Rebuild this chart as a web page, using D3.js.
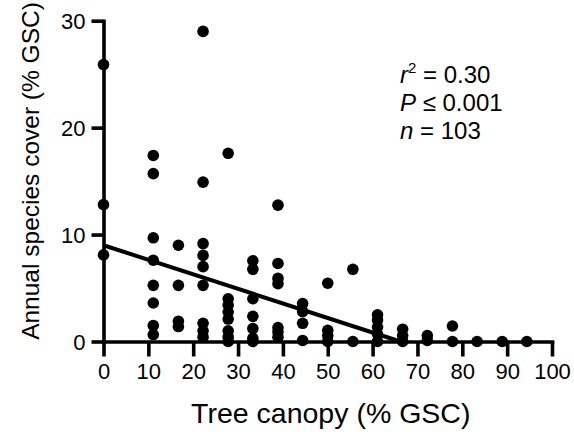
<!DOCTYPE html>
<html>
<head>
<meta charset="utf-8">
<script src="https://cdn.jsdelivr.net/npm/d3@7"></script>
<style>
  html, body { margin: 0; padding: 0; background: #fff; }
  svg { display: block; font-family: "Liberation Sans", Arial, Helvetica, sans-serif; }
</style>
</head>
<body>
<svg id="chart" width="574" height="438"></svg>
<script>
// Tree canopy classes (% ground surface cover) and annual species cover per sampled plot
const canopy = [
  0, 0, 0,
  11.1, 11.1, 11.1, 11.1, 11.1, 11.1, 11.1, 11.1,
  16.7, 16.7, 16.7, 16.7,
  22.2, 22.2, 22.2, 22.2, 22.2, 22.2, 22.2, 22.2, 22.2,
  27.8, 27.8, 27.8, 27.8, 27.8, 27.8, 27.8, 27.8,
  33.3, 33.3, 33.3, 33.3, 33.3, 33.3, 33.3,
  38.9, 38.9, 38.9, 38.9, 38.9, 38.9, 38.9,
  44.4, 44.4, 44.4, 44.4,
  50, 50, 50, 50,
  55.6, 55.6,
  61.1, 61.1, 61.1, 61.1, 61.1,
  66.7, 66.7, 66.7,
  72.2, 72.2,
  77.8, 77.8,
  83.3, 88.9, 94.4
];
const annualCover = [
  25.9, 12.8, 8.1,
  17.4, 15.7, 9.7, 7.6, 5.25, 3.6, 1.5, 0.65,
  9.0, 5.25, 1.9, 1.4,
  29.0, 14.9, 9.15, 8.05, 7.0, 5.25, 1.7, 1.0, 0.4,
  17.6, 4.0, 3.4, 2.75, 2.1, 1.0, 0.4, 0,
  7.55, 6.75, 4.0, 2.35, 1.2, 0.3, 0,
  12.75, 7.3, 5.9, 5.4, 1.3, 0.9, 0.4,
  3.55, 2.8, 1.7, 0.1,
  5.45, 1.05, 0.55, 0,
  6.75, 0,
  2.5, 2.0, 1.35, 0.7, 0,
  1.15, 0.55, 0,
  0.55, 0.1,
  1.45, 0,
  0, 0, 0
];
const xTicks = [0, 10, 20, 30, 40, 50, 60, 70, 80, 90, 100];
const yTicks = [0, 10, 20, 30];
// Fitted linear regression
const fitIntercept = 9.0;
const fitSlope = -0.136;
const stats = [
  { sym: "r", sup: "2", rel: " = ", val: "0.30" },
  { sym: "P", sup: "", rel: " \u2264 ", val: "0.001" },
  { sym: "n", sup: "", rel: " = ", val: "103" }
];

const svg = d3.select("#chart");
svg.append("rect").attr("width", 574).attr("height", 438).attr("fill", "#fff");

const x = d3.scaleLinear().domain([0, 100]).range([103.5, 552]);
const y = d3.scaleLinear().domain([0, 30]).range([341.5, 20.7]);

const axisStroke = 3.6;

// x axis
const gx = svg.append("g").attr("transform", `translate(0,${y(0)})`)
  .call(d3.axisBottom(x).tickValues(xTicks).tickSizeInner(15).tickSizeOuter(0).tickPadding(7));
// y axis
const gy = svg.append("g").attr("transform", `translate(${x(0)},0)`)
  .call(d3.axisLeft(y).tickValues(yTicks).tickSizeInner(12).tickSizeOuter(0).tickPadding(6));

[gx, gy].forEach(g => {
  g.select(".domain").attr("stroke", "#000").attr("stroke-width", axisStroke).attr("stroke-linecap", "square");
  g.selectAll(".tick line").attr("stroke", "#000").attr("stroke-width", axisStroke);
  g.selectAll(".tick text").attr("fill", "#000").attr("font-size", 22)
    .attr("font-family", "'Liberation Sans', Arial, sans-serif");
});
gy.selectAll(".tick text").attr("dy", "0.36em");

// regression line
const xEnd = -fitIntercept / fitSlope;
svg.append("line")
  .attr("x1", x(0)).attr("y1", y(fitIntercept))
  .attr("x2", x(xEnd)).attr("y2", y(fitIntercept + fitSlope * xEnd))
  .attr("stroke", "#000").attr("stroke-width", 4);

// observations
svg.append("g").selectAll("circle")
  .data(canopy.map((c, i) => [c, annualCover[i]]))
  .join("circle")
  .attr("cx", d => x(d[0]))
  .attr("cy", d => y(d[1]))
  .attr("r", 5.8)
  .attr("fill", "#000");

// axis titles
svg.append("text")
  .attr("x", (x(0) + x(100)) / 2 + 3).attr("y", 423)
  .attr("text-anchor", "middle").attr("font-size", 28.5).attr("fill", "#000")
  .text("Tree canopy (% GSC)");
svg.append("text")
  .attr("transform", `translate(39,${171}) rotate(-90)`)
  .attr("text-anchor", "middle").attr("font-size", 24.5).attr("fill", "#000")
  .text("Annual species cover (% GSC)");

// fit statistics
const statG = svg.append("g").attr("font-size", 24).attr("fill", "#000");
stats.forEach((s, i) => {
  const t = statG.append("text").attr("x", 400).attr("y", 83 + i * 28);
  t.append("tspan").attr("font-style", "italic").text(s.sym);
  if (s.sup) t.append("tspan").attr("font-size", 15).attr("dy", -10).text(s.sup);
  t.append("tspan").attr("dy", s.sup ? 10 : 0).text(s.rel + s.val);
});
</script>
</body>
</html>
